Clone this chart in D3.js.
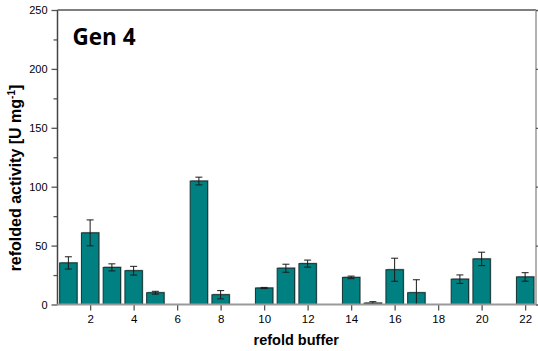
<!DOCTYPE html>
<meta charset="utf-8">
<script src="https://d3js.org/d3.v7.min.js"></script>
<style>
  body { margin: 0; background: #fff; }
  text { font-family: "Liberation Sans", Arial, sans-serif; }
</style>
<div id="chart"></div>
<script>
// refold buffer number, activity and error (0 = not measured)
var buffers = d3.range(1, 23);
var activity = [35.3, 60.8, 31.5, 28.7, 10, 0, 104.8, 8.3, 0, 14, 30.8, 34.7, 0, 23, 1.2, 29.5, 10, 0, 21.5, 38.7, 0, 23.4];
var errors   = [5.2, 11, 3, 3.7, 1.2, 0, 3.3, 3.5, 0, 0.5, 3.4, 3, 0, 1.1, 1.2, 9.8, 11, 0, 3.6, 5.7, 0, 3.6];
var xTicks = [2, 4, 6, 8, 10, 12, 14, 16, 18, 20, 22];
var yTicks = [0, 50, 100, 150, 200, 250];

var W = 538, H = 351;
var margin = {top: 10, right: 2, bottom: 46.5, left: 57.5};
var width = W - margin.left - margin.right,
    height = H - margin.top - margin.bottom;

var svg = d3.select("#chart").append("svg")
    .attr("width", W).attr("height", H)
  .append("g")
    .attr("transform", "translate(" + margin.left + "," + margin.top + ")");

var x = d3.scaleLinear().domain([0.5, 22.5]).range([0, width]);
var y = d3.scaleLinear().domain([0, 250]).range([height, 0]);
var bw = x(0.8) - x(0);

var data = buffers.map(function(b, i) { return {b: b, v: activity[i], e: errors[i]}; })
  .filter(function(d) { return d.v > 0; });

// bar shadows
svg.selectAll(".shadow").data(data).enter().append("rect")
  .attr("x", function(d) { return x(d.b) - bw / 2 + 1; })
  .attr("y", function(d) { return y(d.v) - 1; })
  .attr("width", bw).attr("height", function(d) { return height - y(d.v) + 1; })
  .attr("fill", "#b0b0b0");

// bars
svg.selectAll(".bar").data(data).enter().append("rect")
  .attr("x", function(d) { return x(d.b) - bw / 2; })
  .attr("y", function(d) { return y(d.v); })
  .attr("width", bw).attr("height", function(d) { return height - y(d.v); })
  .attr("fill", "#008080")
  .attr("stroke", "#143232").attr("stroke-width", 1);

// error bars
var err = svg.selectAll(".err").data(data).enter().append("g")
  .attr("stroke", "#1a1a1a").attr("stroke-width", 1);
err.append("line")
  .attr("x1", function(d) { return x(d.b); }).attr("x2", function(d) { return x(d.b); })
  .attr("y1", function(d) { return y(d.v + d.e); })
  .attr("y2", function(d) { return y(Math.max(0, d.v - d.e)); });
err.append("line")
  .attr("x1", function(d) { return x(d.b) - 3.5; }).attr("x2", function(d) { return x(d.b) + 3.5; })
  .attr("y1", function(d) { return y(d.v + d.e); }).attr("y2", function(d) { return y(d.v + d.e); });
err.filter(function(d) { return d.v - d.e > 0; }).append("line")
  .attr("x1", function(d) { return x(d.b) - 3.5; }).attr("x2", function(d) { return x(d.b) + 3.5; })
  .attr("y1", function(d) { return y(d.v - d.e); }).attr("y2", function(d) { return y(d.v - d.e); });

// frame
svg.append("line").attr("x1", 0).attr("x2", width).attr("y1", 0).attr("y2", 0)
  .attr("stroke", "#555").attr("stroke-width", 1.5);
svg.append("line").attr("x1", width).attr("x2", width).attr("y1", 0).attr("y2", height)
  .attr("stroke", "#999").attr("stroke-width", 1.5);

// axes
var yAxis = svg.append("g")
  .call(d3.axisLeft(y).tickValues(yTicks).tickSize(6).tickPadding(4));
var yMinor = svg.append("g")
  .call(d3.axisLeft(y).tickValues(d3.range(25, 250, 50)).tickSize(4).tickFormat(""));
var yRight = svg.append("g").attr("transform", "translate(" + width + ",0)")
  .call(d3.axisRight(y).tickValues(yTicks).tickSize(4).tickFormat(""));
var xAxis = svg.append("g").attr("transform", "translate(0," + height + ")")
  .call(d3.axisBottom(x).tickValues(xTicks).tickSize(6).tickPadding(4));

[yAxis, yMinor, yRight, xAxis].forEach(function(a) {
  a.select(".domain").remove();
  a.selectAll("line").attr("stroke", "#555").attr("stroke-width", 1.3);
  a.selectAll("text").attr("fill", "#000").style("font-size", "11px");
});
xAxis.selectAll("text").style("font-size", "11.5px");
svg.append("line").attr("x1", 0).attr("x2", 0).attr("y1", 0).attr("y2", height)
  .attr("stroke", "#444").attr("stroke-width", 1.5);
svg.append("line").attr("x1", 0).attr("x2", width).attr("y1", height).attr("y2", height)
  .attr("stroke", "#999").attr("stroke-width", 2);

// labels
svg.append("text")
  .attr("x", width / 2 - 0.5).attr("y", height + 40.5)
  .attr("text-anchor", "middle")
  .style("font-size", "14.5px").style("font-weight", "bold")
  .text("refold buffer");

var yl = svg.append("text")
  .attr("transform", "translate(" + (-36.5) + "," + 168 + ") rotate(-90)")
  .attr("text-anchor", "middle")
  .style("font-size", "16px").style("font-weight", "bold");
yl.append("tspan").text("refolded activity [U mg");
yl.append("tspan").attr("dy", -6).style("font-size", "10px").text("-1");
yl.append("tspan").attr("dy", 6).text("]");

svg.append("text")
  .attr("x", 15).attr("y", 35)
  .style("font-family", "'Open Sans', sans-serif")
  .style("font-size", "22.5px").style("font-weight", "bold")
  .text("Gen 4");
</script>
